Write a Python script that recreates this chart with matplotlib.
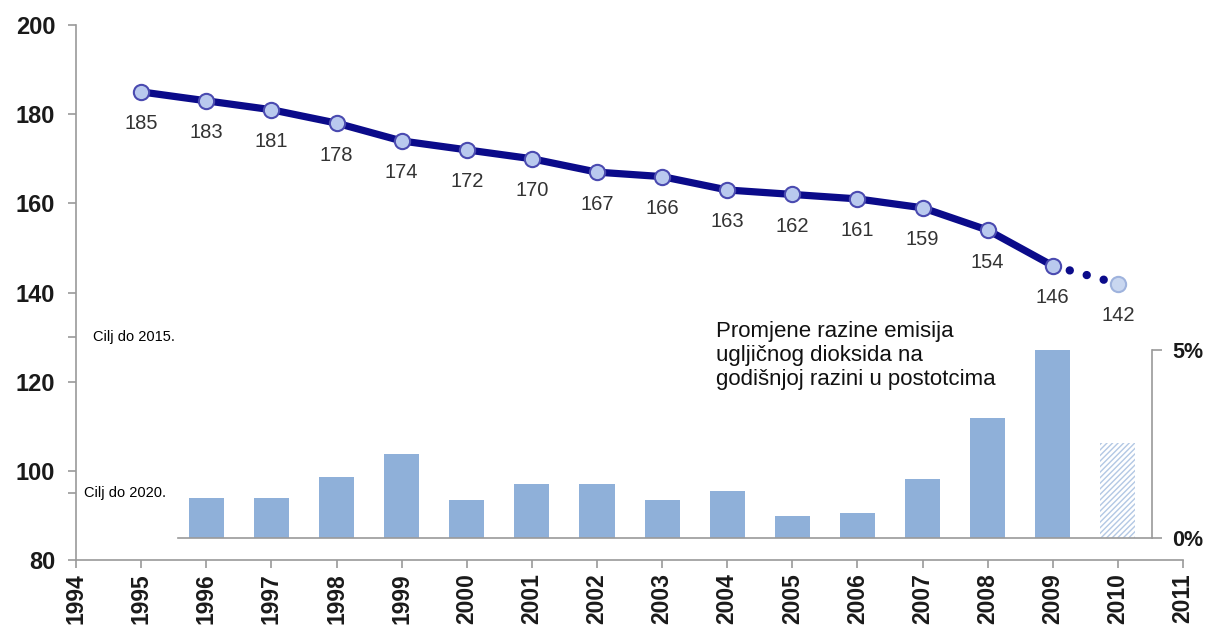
import numpy as np
import matplotlib
matplotlib.use('Agg')
import matplotlib.pyplot as plt

plt.rcParams['font.family'] = ['Liberation Sans', 'DejaVu Sans']

# emisije CO2 po godinama (lijeva os)
years = [1995, 1996, 1997, 1998, 1999, 2000, 2001, 2002,
         2003, 2004, 2005, 2006, 2007, 2008, 2009]
emissions = [185, 183, 181, 178, 174, 172, 170, 167,
             166, 163, 162, 161, 159, 154, 146]
# procjena za 2010.
forecast_year = 2010
forecast_value = 142

# godišnja promjena u postotcima (stupci)
bar_years = [1996, 1997, 1998, 1999, 2000, 2001, 2002,
             2003, 2004, 2005, 2006, 2007, 2008, 2009]
bar_pct = [1.06, 1.07, 1.63, 2.23, 1.00, 1.43, 1.45,
           1.00, 1.25, 0.59, 0.66, 1.58, 3.20, 5.00]
forecast_pct = 2.53

x_ticks = list(range(1994, 2012))
y_ticks = [80, 100, 120, 140, 160, 180, 200]
target_ticks = [130, 95]
target_labels = ['Cilj do 2015.', 'Cilj do 2020.']
target_x = [1994.26, 1994.12]
pct_ticks = [0, 5]
pct_labels = ['0%', '5%']
bar_title = 'Promjene razine emisija\nugljičnog dioksida na\ngodišnjoj razini u postotcima'

navy = '#0b0b8a'
spine_grey = '#9a9a9a'
bar_blue = '#8fb0d9'

fig = plt.figure(figsize=(12.09, 6.3), dpi=100)
ax = fig.add_axes([0.0629, 0.1111, 0.9156, 0.8492])

# glavna linija
ax.plot(years, emissions, color=navy, lw=5.2, marker='o', ms=11,
        mfc='#b9c9ee', mec='#4a4ab0', mew=1.5, solid_capstyle='round', zorder=3)
# točkasti dio prema procjeni
ax.plot([years[-1], forecast_year], [emissions[-1], forecast_value], color=navy,
        lw=6, linestyle=(0, (0.01, 2.1)), dash_capstyle='round', zorder=2)
ax.plot([forecast_year], [forecast_value], 'o', ms=11, mfc='#c9d7f0',
        mec='#9fb3dd', mew=1.5, zorder=3)

for x, v in zip(years + [forecast_year], emissions + [forecast_value]):
    ax.annotate(str(v), (x, v), xytext=(0, -23), textcoords='offset points',
                ha='center', va='center', fontsize=14.5, color='#333333')

for x, y, t in zip(target_x, target_ticks, target_labels):
    ax.text(x, y, t, fontsize=10.5, color='black', va='center', ha='left')

ax.text(2003.83, 133.6, bar_title, fontsize=16, va='top', ha='left',
        color='#111111', linespacing=1.18)

ax.set_xlim(1994, 2011)
ax.set_ylim(80, 200)
for s in ['top', 'right']:
    ax.spines[s].set_visible(False)
for s in ['left', 'bottom']:
    ax.spines[s].set_color(spine_grey)
    ax.spines[s].set_linewidth(1.2)

ax.set_xticks(x_ticks, labels=[str(t) for t in x_ticks], rotation=90,
              fontweight='bold', fontsize=16.5, color='#1a1a1a')
ax.set_yticks(y_ticks, labels=[str(t) for t in y_ticks],
              fontweight='bold', fontsize=17, color='#1a1a1a')
ax.set_yticks(target_ticks, minor=True)
ax.tick_params(axis='both', which='both', color=spine_grey, length=6, width=1.2)
ax.tick_params(axis='x', pad=3.5)
ax.tick_params(axis='y', pad=9)

# umetnuti graf sa stupcima
bax = ax.inset_axes([1995.57, 84.93, 14.95, 42.17], transform=ax.transData)
bax.patch.set_facecolor('none')
bax.set_xlim(1995.57, 2010.52)
bax.set_ylim(0, 5)
bax.bar(bar_years, bar_pct, width=0.54, color=bar_blue, linewidth=0)
bax.bar([forecast_year], [forecast_pct], width=0.54, facecolor='white',
        edgecolor='#b3c8e4', hatch='//////', linewidth=0)
for s in ['top', 'left']:
    bax.spines[s].set_visible(False)
for s in ['bottom', 'right']:
    bax.spines[s].set_color(spine_grey)
    bax.spines[s].set_linewidth(1.2)
bax.set_xticks([])
bax.yaxis.tick_right()
bax.set_yticks(pct_ticks, labels=pct_labels, fontweight='bold', fontsize=15.5,
               color='#1a1a1a')
bax.tick_params(axis='y', color=spine_grey, length=7, width=1.2, pad=8)

fig.savefig('out.png', dpi=100)
